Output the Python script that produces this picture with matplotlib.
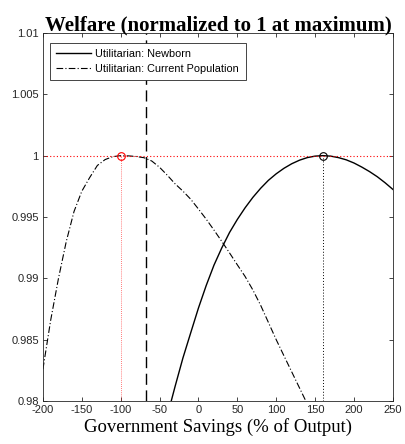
import numpy as np
import matplotlib.pyplot as plt
from matplotlib.ticker import FuncFormatter

plt.rcParams['axes.unicode_minus'] = False

# welfare of newborn generation vs government savings
newborn_x = [-40, -30, -20, -10, 0, 10, 20, 30, 40, 50, 60, 70, 80, 90, 100,
             110, 120, 130, 140, 150, 160, 170, 180, 190, 200, 210, 220, 230, 240, 250]
newborn_y = [0.9788, 0.9812, 0.9835, 0.98555, 0.98758, 0.98942, 0.99108, 0.99248, 0.99374, 0.9948,
             0.99575, 0.9966, 0.99734, 0.99799, 0.99852, 0.99897, 0.99934, 0.99963, 0.99984, 0.99996,
             1.0, 0.99996, 0.99984, 0.99966, 0.9994, 0.99907, 0.9987, 0.99828, 0.99779, 0.99725]

# welfare of current population
current_x = [-200, -190, -180, -170, -160, -150, -140, -130, -120, -110, -100, -90, -80, -70,
             -60, -50, -40, -30, -20, -10, 0, 10, 20, 30, 40, 50, 60, 70, 80, 90, 100,
             110, 120, 130, 140]
current_y = [0.9826, 0.9866, 0.9900, 0.9930, 0.99545, 0.9971, 0.9982, 0.9992, 0.99968, 0.99992,
             1.0, 0.99998, 0.99993, 0.99983, 0.99956, 0.99905, 0.9984, 0.9977, 0.99711, 0.99645,
             0.99565, 0.99482, 0.99393, 0.99301, 0.99207, 0.9911, 0.99015, 0.98905, 0.9878, 0.9864,
             0.9850, 0.98368, 0.98237, 0.98106, 0.97975]

opt_newborn = 160
opt_current = -100
status_quo = -67

sans = 'Liberation Sans'
serif = 'Liberation Serif'

fig = plt.figure(figsize=(4.05, 4.44), dpi=100)
ax = fig.add_axes([0.106, 0.0968, 0.864, 0.829])

ax.plot(newborn_x, newborn_y, color='k', lw=1.0, label='Utilitarian: Newborn')
ax.plot(current_x, current_y, color='k', lw=0.8, linestyle=(0, (6, 2, 1, 2)),
        label='Utilitarian: Current Population')

ax.axhline(1.0, color='red', lw=0.8, linestyle=(0, (1, 2)))
ax.plot([opt_current, opt_current], [0.98, 1.0], color='red', lw=0.6,
        linestyle=(0, (1, 1.5)), alpha=0.7)
ax.plot([opt_newborn, opt_newborn], [0.98, 1.0], color='k', lw=0.7, linestyle=(0, (1, 2)))
ax.axvline(status_quo, color='k', lw=1.0, linestyle=(0, (8, 4)))

ax.plot([opt_current], [1.0], 'o', mfc='none', mec='red', ms=5.5, mew=0.8)
ax.plot([opt_newborn], [1.0], 'o', mfc='none', mec='k', ms=5.5, mew=0.8)

ax.set_xlim(-200, 250)
ax.set_ylim(0.98, 1.01)
ax.set_xticks(np.arange(-200, 251, 50))
ax.set_yticks([0.98, 0.985, 0.99, 0.995, 1.0, 1.005, 1.01])
ax.yaxis.set_major_formatter(FuncFormatter(lambda v, p: '%g' % round(v, 4)))
ax.tick_params(direction='in', top=True, right=True, labelsize=8, length=3,
               width=0.6, colors='0.15', pad=3)
for lab in ax.get_xticklabels() + ax.get_yticklabels():
    lab.set_family(sans)
for s in ax.spines.values():
    s.set_linewidth(0.6)
    s.set_color('0.15')

ax.set_title('Welfare (normalized to 1 at maximum)', family=serif,
             fontweight='bold', fontsize=15, pad=2)
ax.set_xlabel('Government Savings (% of Output)', family=serif,
              fontsize=13.5, labelpad=2)

leg = ax.legend(loc='upper left', bbox_to_anchor=(0.02, 0.974),
                prop={'family': sans, 'size': 7.8}, frameon=True, fancybox=False,
                framealpha=1, handlelength=3.2, handletextpad=0.4, borderaxespad=0,
                labelspacing=0.45, borderpad=0.6)
leg.get_frame().set_edgecolor('0.15')
leg.get_frame().set_linewidth(0.6)
leg.set_zorder(10)

fig.savefig('out.png', dpi=100)
